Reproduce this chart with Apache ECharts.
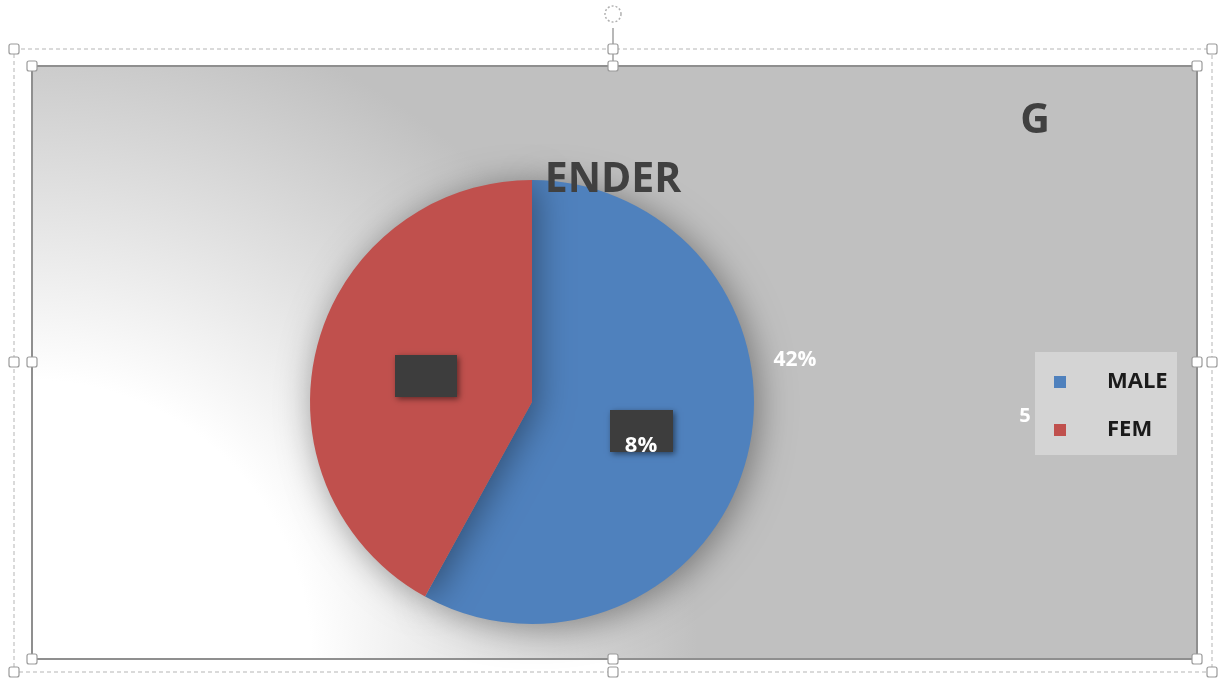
<!DOCTYPE html>
<html><head><meta charset="utf-8">
<script src="https://cdn.jsdelivr.net/npm/echarts@6/dist/echarts.min.js"></script>
<style>html,body{margin:0;padding:0;background:#fff}#c{width:1224px;height:679px}</style>
</head><body><div id="c"></div>
<script>
const categories = ['MALE', 'FEMALE'];
const legendLabels = ['MALE', 'FEM'];
const values = [58, 42];
const colors = ['#4F81BD', '#C0504D'];
const titleParts = ['G', 'ENDER'];
const labelFragments = ['42%', '8%', '5'];

const chart = echarts.init(document.getElementById('c'));
const handle = (x, y) => ({type:'rect', shape:{x:x-5, y:y-5, width:10, height:10, r:2}, style:{fill:'#fff', stroke:'#9a9a9a', lineWidth:1.2}, z:30});
const dark = (x, y, w, h) => ({type:'rect', shape:{x, y, width:w, height:h}, style:{fill:'#3d3d3d', shadowBlur:6, shadowColor:'rgba(0,0,0,0.5)', shadowOffsetX:2, shadowOffsetY:2}, z:20});
const FONT = '"Open Sans", Calibri, sans-serif';

chart.setOption({
  animation:false,
  backgroundColor:'#ffffff',
  graphic:[
    {type:'rect', shape:{x:32, y:66, width:1165, height:593}, style:{fill:{type:'radial', x:0, y:1, r:1.12, colorStops:[{offset:0,color:'#ffffff'},{offset:0.42,color:'#ffffff'},{offset:1,color:'#c0c0c0'}]}, stroke:'#8f8f8f', lineWidth:2}, z:-10},
    {type:'rect', shape:{x:14, y:49, width:1198, height:623}, style:{fill:'none', stroke:'#b5b5b5', lineWidth:1, lineDash:[4,3]}, z:-5},
    {type:'line', shape:{x1:613, y1:28, x2:613, y2:66}, style:{stroke:'#a0a0a0', lineWidth:1.5}, z:25},
    {type:'circle', shape:{cx:613, cy:14, r:8}, style:{fill:'none', stroke:'#b0b0b0', lineWidth:1.5, lineDash:[2,2]}, z:25},
    handle(14,49), handle(613,49), handle(1212,49), handle(14,362), handle(1212,362), handle(14,672), handle(613,672), handle(1212,672),
    handle(32,66), handle(613,66), handle(1197,66), handle(32,362), handle(1197,362), handle(32,659), handle(613,659), handle(1197,659),
    {type:'text', style:{x:1035, y:121, text:titleParts[0], font:'bold 41px ' + FONT, fill:'#404040', align:'center', verticalAlign:'middle'}, z:20},
    {type:'text', style:{x:613, y:180, text:titleParts[1], font:'bold 41px ' + FONT, fill:'#404040', align:'center', verticalAlign:'middle'}, z:20},
    dark(395, 355, 62, 42),
    dark(610, 410, 63, 42),
    {type:'text', style:{x:641, y:446, text:labelFragments[1], font:'bold 22px ' + FONT, fill:'#ffffff', align:'center', verticalAlign:'middle'}, z:21},
    {type:'text', style:{x:795, y:360, text:labelFragments[0], font:'bold 21px ' + FONT, fill:'#ffffff', align:'center', verticalAlign:'middle'}, z:21},
    {type:'rect', shape:{x:1035, y:352, width:142, height:103}, style:{fill:'#d4d4d4'}, z:15},
    {type:'text', style:{x:1025, y:416, text:labelFragments[2], font:'bold 20px ' + FONT, fill:'#ffffff', align:'center', verticalAlign:'middle'}, z:21}
  ],
  legend:{
    orient:'vertical', left:1049, top:366, itemGap:26, itemWidth:12, itemHeight:12, icon:'rect',
    data:categories,
    formatter: n => legendLabels[categories.indexOf(n)],
    textStyle:{fontFamily:FONT, fontWeight:'bold', fontSize:22, color:'#1a1a1a', padding:[0,0,0,36]},
    z:20
  },
  series:[{
    type:'pie', center:[532,402], radius:[0,222], startAngle:90, clockwise:true,
    label:{show:false}, labelLine:{show:false},
    itemStyle:{shadowBlur:35, shadowColor:'rgba(0,0,0,0.4)', shadowOffsetX:4, shadowOffsetY:4, borderWidth:0},
    emphasis:{disabled:true},
    data: categories.map((c,i)=>({name:c, value:values[i], itemStyle:{color:colors[i]}}))
  }]
});
</script></body></html>
